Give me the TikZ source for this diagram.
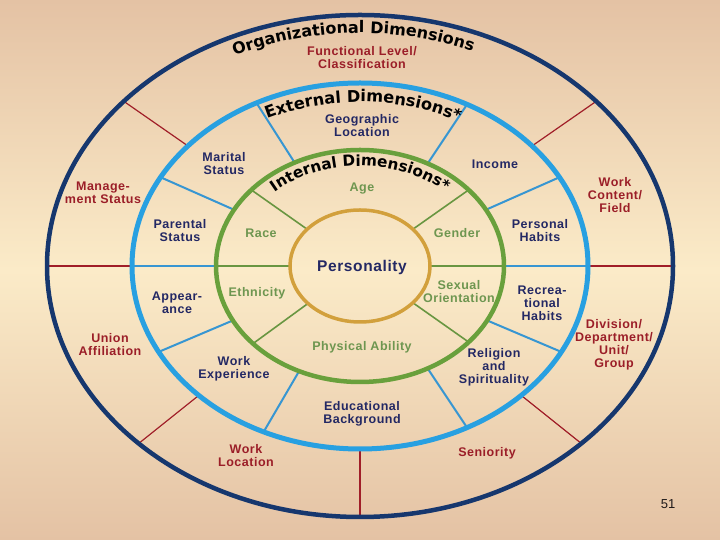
\documentclass[tikz,border=0pt]{standalone}
\usepackage{fontspec}
\setmainfont{Liberation Sans}
\newfontfamily\labfam{Liberation Sans}[LetterSpace=4]
\newfontfamily\arcfam{DejaVu Sans}
\usetikzlibrary{decorations.text}
\definecolor{bgtop}{RGB}{228,194,164}
\definecolor{bgmid}{RGB}{251,235,200}
\definecolor{navyring}{RGB}{22,55,110}
\definecolor{bluering}{RGB}{40,160,225}
\definecolor{greenring}{RGB}{105,160,60}
\definecolor{goldring}{RGB}{210,160,60}
\definecolor{redtext}{RGB}{155,30,40}
\definecolor{navytext}{RGB}{35,40,100}
\definecolor{greentext}{RGB}{110,150,80}
\definecolor{redsp}{RGB}{160,30,40}
\definecolor{bluesp}{RGB}{55,150,210}
\definecolor{greensp}{RGB}{105,150,65}
\newcommand{\arcA}{\arcfam\bfseries\fontsize{16}{16}\selectfont}
\newcommand{\arcB}{\arcfam\bfseries\fontsize{16.2}{16.2}\selectfont}
\newcommand{\arcC}{\arcfam\bfseries\fontsize{15.3}{15.3}\selectfont}
\tikzset{
  lbl/.style={align=center, inner sep=0pt, font=\labfam\bfseries\fontsize{12.5}{13}\selectfont},
  orgl/.style={lbl, text=redtext},
  extl/.style={lbl, text=navytext},
  intl/.style={lbl, text=greentext},
  redspoke/.style={draw=redsp, line width=1.2pt},
  bluespoke/.style={draw=bluesp, line width=2pt},
  greenspoke/.style={draw=greensp, line width=1.6pt},
}
\begin{document}
\begin{tikzpicture}[x=1pt,y=1pt]
\useasboundingbox (0,0) rectangle (720,540);
\shade[top color=bgtop, bottom color=bgtop, middle color=bgmid] (0,0) rectangle (720,540);
% spokes
\foreach \t in {0,41,139,180,225,270,315}
  \draw[redspoke] ({360+228*cos(\t)},{274+183*sin(\t)}) -- ({360+313*cos(\t)},{274+251*sin(\t)});
\foreach \t in {0,29,62,117,151,180,208,245,298,332}
  \draw[bluespoke] ({360+144*cos(\t)},{274+116*sin(\t)}) -- ({360+228*cos(\t)},{274+183*sin(\t)});
\foreach \t in {0,41,139,180,222,319}
  \draw[greenspoke] ({360+70*cos(\t)},{274+56*sin(\t)}) -- ({360+144*cos(\t)},{274+116*sin(\t)});
% rings
\draw[navyring, line width=4.5pt] (360,274) ellipse [x radius=313pt, y radius=251pt];
\draw[bluering, line width=5pt] (360,274) ellipse [x radius=228pt, y radius=183pt];
\draw[greenring, line width=4.5pt] (360,274) ellipse [x radius=144pt, y radius=116pt];
\draw[goldring, line width=3.5pt] (360,274) ellipse [x radius=70pt, y radius=56pt];
% arc titles
\path[decorate, decoration={text along path, text align=center, text={|\arcA|Organizational Dimensions}}]
  (360,274) ++(141.5:290pt and 233pt) arc[start angle=141.5, end angle=41.5, x radius=290pt, y radius=233pt];
\path[decorate, decoration={text along path, text align=center, text={|\arcB|External Dimensions*}}]
  (360,274) ++(139:209pt and 164pt) arc[start angle=139, end angle=39, x radius=209pt, y radius=164pt];
\path[decorate, decoration={text along path, text align=center, text={|\arcC|Internal Dimensions*}}]
  (360,274) ++(140:127pt and 100pt) arc[start angle=140, end angle=40, x radius=127pt, y radius=100pt];
% organizational labels
\node[orgl] (func) at (362,482) {Functional Level/\\Classification};
\node[orgl] (mgmt) at (103,347) {Manage-\\ment Status};
\node[orgl] (union) at (110,195) {Union\\Affiliation};
\node[orgl] (wloc) at (246,84) {Work\\Location};
\node[orgl] (senior) at (487,87) {Seniority};
\node[orgl] (div) at (614,195) {Division/\\Department/\\Unit/\\Group};
\node[orgl] (wcont) at (615,345) {Work\\Content/\\Field};
% external labels
\node[extl] (geo) at (362,414) {Geographic\\Location};
\node[extl] (marital) at (224,376) {Marital\\Status};
\node[extl] (income) at (495,376) {Income};
\node[extl] (parent) at (180,309) {Parental\\Status};
\node[extl] (habits) at (540,309) {Personal\\Habits};
\node[extl] (appear) at (177,237) {Appear-\\ance};
\node[extl] (recrea) at (542,237) {Recrea-\\tional\\Habits};
\node[extl] (wexp) at (234,171) {Work\\Experience};
\node[extl] (relig) at (494,173) {Religion\\and\\Spirituality};
\node[extl] (edu) at (362,126) {Educational\\Background};
% internal labels
\node[intl] (age) at (362,351) {Age};
\node[intl] (race) at (261,307) {Race};
\node[intl] (gender) at (457,307) {Gender};
\node[intl] (ethn) at (257,247) {Ethnicity};
\node[intl] (sexual) at (459,248) {Sexual\\Orientation};
\node[intl] (phys) at (362,193) {Physical Ability};
\node[lbl, text=navytext, font=\labfam\bfseries\fontsize{15.5}{15.5}\selectfont] (pers) at (362,273) {Personality};
\node[inner sep=0pt, text={rgb,255:red,30;green,25;blue,25}, font=\fontsize{13}{13}\selectfont] (num) at (668,36) {51};
\end{tikzpicture}
\end{document}
